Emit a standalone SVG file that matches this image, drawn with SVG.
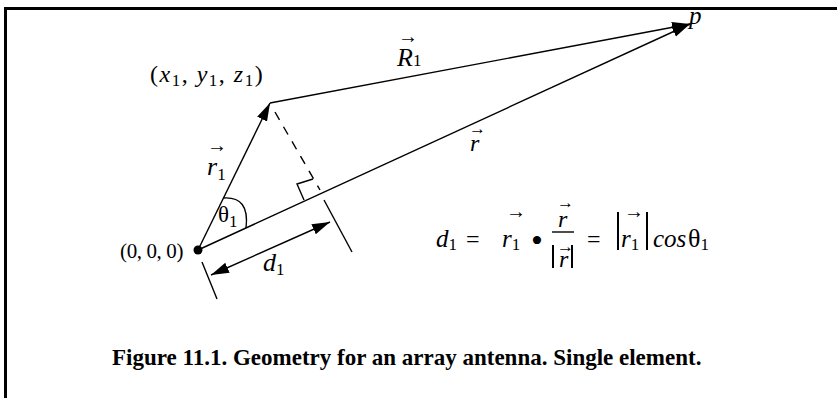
<svg xmlns="http://www.w3.org/2000/svg" width="837" height="398" viewBox="0 0 837 398">
<defs>
<style>
.ln{stroke:#000;stroke-width:1.4;fill:none}
.t{font-family:"Liberation Serif","Times New Roman",serif;font-size:24px;fill:#000}
.i{font-style:italic}
.s{font-size:17px}
.ac{font-family:"Liberation Serif","Times New Roman",serif;font-size:20px;fill:#000}
.ac2{font-family:"Liberation Serif","Times New Roman",serif;font-size:17px;fill:#000}
.bar{stroke:#000;stroke-width:2;fill:none}
.cap{font-family:"Liberation Serif","Times New Roman",serif;font-size:23px;font-weight:bold;fill:#000}
</style>
<marker id="ah" markerUnits="userSpaceOnUse" markerWidth="20" markerHeight="12" refX="18" refY="5.5" orient="auto-start-reverse">
<path d="M0,0 L18,5.5 L0,11 z" fill="#000"/>
</marker>
</defs>
<rect width="837" height="398" fill="#fff"/>
<g id="frame">
<path d="M5.5,398 L5.5,8.5 L837,8.5" stroke="#000" stroke-width="3" fill="none"/>
</g>
<g id="connectors">
<line id="vec-r1" class="ln" x1="198" y1="250" x2="270" y2="103" marker-end="url(#ah)"/>
<line id="vec-R1" class="ln" x1="270" y1="103" x2="690" y2="24" marker-end="url(#ah)"/>
<line id="vec-r" class="ln" x1="198" y1="250" x2="690" y2="24" marker-end="url(#ah)"/>
<line id="proj" class="ln" x1="275" y1="112" x2="320" y2="190" stroke-dasharray="9 8"/>
<line id="ext-right" class="ln" x1="324" y1="200" x2="352" y2="252"/>
<line id="ext-left" class="ln" x1="202" y1="262" x2="217" y2="299"/>
<polyline id="right-angle" class="ln" points="313,179 297,184 304,200"/>
<path id="theta-arc" class="ln" d="M223,198 Q250,196 246,228"/>
<line id="dim-d1" class="ln" x1="211" y1="275" x2="330" y2="222" marker-start="url(#ah)" marker-end="url(#ah)"/>
</g>
<g id="origin">
<circle cx="198" cy="250" r="4.5" fill="#000"/>
<text class="t" x="183" y="258" text-anchor="end" letter-spacing="-0.4" style="font-size:21px">(0, 0, 0)</text>
</g>
<g id="point-1">
<text class="t" x="150" y="82" letter-spacing="1.5">(<tspan class="i">x</tspan><tspan class="s" dy="4">1</tspan><tspan dy="-4">, </tspan><tspan class="i">y</tspan><tspan class="s" dy="4">1</tspan><tspan dy="-4">, </tspan><tspan class="i">z</tspan><tspan class="s" dy="4">1</tspan><tspan dy="-4">)</tspan></text>
</g>
<g id="point-p">
<text class="t i" x="689" y="24" style="font-size:25px">p</text>
</g>
<g id="label-r1">
<text class="ac" x="207" y="152">→</text>
<text class="t" x="207" y="175" style="font-size:26px"><tspan class="i">r</tspan><tspan class="s" dy="5">1</tspan></text>
</g>
<g id="label-theta">
<text class="t" x="218" y="222" style="font-size:23px">θ<tspan class="s" dy="5">1</tspan></text>
</g>
<g id="label-d1">
<text class="t" x="263" y="271" style="font-size:26px"><tspan class="i">d</tspan><tspan class="s" dy="4">1</tspan></text>
</g>
<g id="label-R1">
<text class="ac" x="398" y="43">→</text>
<text class="t" x="397" y="66" style="font-size:26px"><tspan class="i">R</tspan><tspan class="s">1</tspan></text>
</g>
<g id="label-r">
<text class="ac2" x="469" y="134">→</text>
<text class="t i" x="470" y="151">r</text>
</g>
<g id="formula">
<text class="t" x="436" y="247" style="font-size:25px"><tspan class="i">d</tspan><tspan class="s" dy="3">1</tspan></text>
<text class="t" x="466" y="247">=</text>
<text class="ac" x="506" y="218">→</text>
<text class="t" x="502" y="247" style="font-size:25px"><tspan class="i">r</tspan><tspan class="s" dy="3">1</tspan></text>
<text class="t" x="531" y="252" style="font-size:34px">•</text>
<text class="ac2" x="557" y="208">→</text>
<text class="t i" x="558" y="227">r</text>
<line class="ln" x1="552" y1="232" x2="574" y2="232"/>
<line class="bar" x1="553" y1="245" x2="553" y2="268"/>
<line class="bar" x1="572" y1="245" x2="572" y2="268"/>
<text class="ac2" x="557" y="252">→</text>
<text class="t i" x="559" y="267">r</text>
<text class="t" x="587" y="247">=</text>
<line class="bar" x1="618" y1="212" x2="618" y2="250"/>
<line class="bar" x1="647" y1="212" x2="647" y2="250"/>
<text class="ac" x="624" y="218">→</text>
<text class="t" x="621" y="247" style="font-size:25px"><tspan class="i">r</tspan><tspan class="s" dy="3">1</tspan></text>
<text class="t i" x="653" y="247" style="font-size:25px">cos</text>
<text class="t" x="688" y="247" style="font-size:26px">θ<tspan class="s" dy="3">1</tspan></text>
</g>
<g id="caption">
<text class="cap" x="112" y="365">Figure 11.1. Geometry for an array antenna. Single element.</text>
</g>
</svg>
